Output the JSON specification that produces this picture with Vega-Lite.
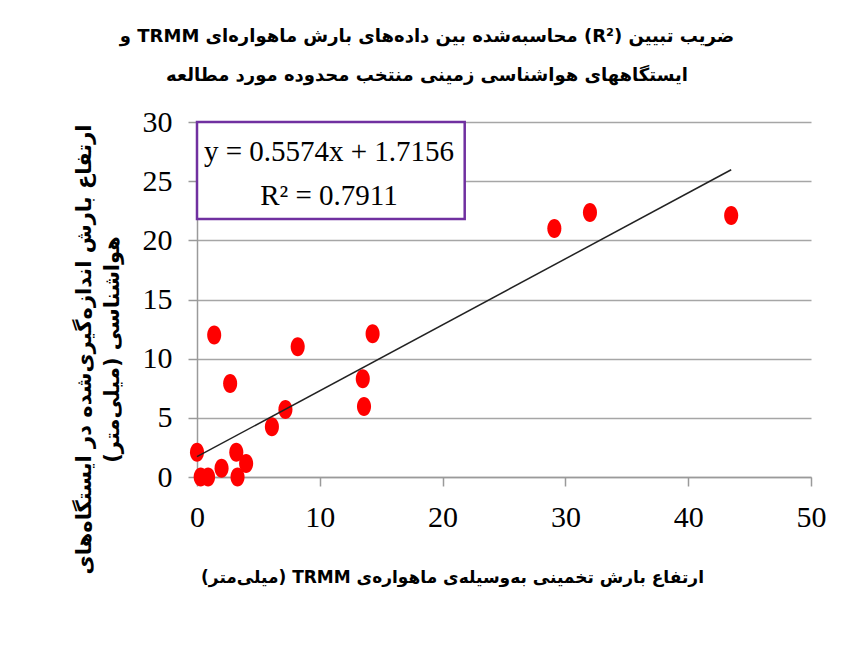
{
  "$schema": "https://vega.github.io/schema/vega-lite/v6.json",
  "width": 614,
  "height": 355,
  "autosize": {"type": "none"},
  "padding": {"left": 197, "top": 122, "right": 33, "bottom": 177},
  "background": "white",
  "title": {
    "text": ["\u202Bضریب تبیین (R²) محاسبه‌شده بین داده‌های بارش ماهواره‌ای TRMM و\u202C", "\u202Bایستگاههای هواشناسی زمینی منتخب محدوده مورد مطالعه\u202C"],
    "font": "DejaVu Sans",
    "fontSize": 18,
    "fontWeight": "bold",
    "color": "black",
    "lineHeight": 39,
    "anchor": "middle",
    "frame": "group",
    "dx": -77,
    "offset": 22
  },
  "config": {
    "view": {"stroke": null},
    "axis": {
      "labelFont": "Liberation Serif",
      "labelFontSize": 30,
      "labelColor": "black",
      "labelFlush": false,
      "domainColor": "#9a9a9a",
      "domainWidth": 1.5,
      "tickColor": "#9a9a9a",
      "tickWidth": 1.5,
      "tickSize": 9,
      "gridColor": "#a6a6a6",
      "gridWidth": 1.5,
      "titleColor": "black",
      "titleFont": "DejaVu Sans"
    }
  },
  "layer": [
    {
      "data": {"values": [
        {"x": 0, "y": 2.1},
        {"x": 0.3, "y": 0},
        {"x": 0.9, "y": 0},
        {"x": 1.4, "y": 12.0},
        {"x": 2.0, "y": 0.75},
        {"x": 2.7, "y": 7.9},
        {"x": 3.2, "y": 2.1},
        {"x": 3.3, "y": 0},
        {"x": 4.0, "y": 1.15},
        {"x": 6.1, "y": 4.25},
        {"x": 7.2, "y": 5.7},
        {"x": 8.2, "y": 11.0},
        {"x": 13.5, "y": 8.3},
        {"x": 13.6, "y": 5.95},
        {"x": 14.3, "y": 12.1},
        {"x": 29.1, "y": 21.0},
        {"x": 32.0, "y": 22.35},
        {"x": 43.5, "y": 22.1}
      ]},
      "mark": {
        "type": "point",
        "shape": "M-0.74,0A0.74,1,0,1,0,0.74,0A0.74,1,0,1,0,-0.74,0Z",
        "size": 361,
        "filled": true,
        "color": "#ff0000",
        "opacity": 1
      },
      "encoding": {
        "x": {
          "field": "x",
          "type": "quantitative",
          "scale": {"domain": [0, 50], "nice": false},
          "axis": {
            "values": [0, 10, 20, 30, 40, 50],
            "grid": false,
            "labelPadding": 16,
            "title": "\u202Bارتفاع بارش تخمینی به‌وسیله‌ی ماهواره‌ی TRMM (میلی‌متر)\u202C",
            "titleFontSize": 17,
            "titleFontWeight": "bold",
            "titleX": 255,
            "titleY": 100,
            "titleBaseline": "middle"
          }
        },
        "y": {
          "field": "y",
          "type": "quantitative",
          "scale": {"domain": [0, 30], "nice": false},
          "axis": {
            "values": [0, 5, 10, 15, 20, 25, 30],
            "grid": true,
            "labelPadding": 16,
            "title": ["\u202Bارتفاع بارش اندازه‌گیری‌شده در ایستگاه‌های\u202C", "\u202Bهواشناسی (میلی‌متر)\u202C"],
            "titleFontSize": 21,
            "titleFontWeight": "bold",
            "titleLineHeight": 28,
            "titleAngle": -90,
            "titleX": -113,
            "titleY": 227,
            "titleBaseline": "middle"
          }
        }
      }
    },
    {
      "data": {"values": [
        {"x": 0, "y": 1.7156},
        {"x": 43.5, "y": 25.963}
      ]},
      "mark": {"type": "line", "color": "#222222", "strokeWidth": 1.5},
      "encoding": {
        "x": {"field": "x", "type": "quantitative"},
        "y": {"field": "y", "type": "quantitative"}
      }
    },
    {
      "data": {"values": [{}]},
      "mark": {"type": "rect", "fill": "white", "stroke": "#7030a0", "strokeWidth": 2.5},
      "encoding": {
        "x": {"datum": 0, "type": "quantitative"},
        "x2": {"datum": 21.8},
        "y": {"datum": 30, "type": "quantitative"},
        "y2": {"datum": 21.8}
      }
    },
    {
      "data": {"values": [
        {"label": "y = 0.5574x + 1.7156", "lx": 10.75, "ly": 27.5},
        {"label": "R² = 0.7911", "lx": 10.75, "ly": 23.75}
      ]},
      "mark": {"type": "text", "font": "Liberation Serif", "fontSize": 29, "color": "black", "align": "center", "baseline": "middle"},
      "encoding": {
        "x": {"field": "lx", "type": "quantitative"},
        "y": {"field": "ly", "type": "quantitative"},
        "text": {"field": "label"}
      }
    }
  ]
}
